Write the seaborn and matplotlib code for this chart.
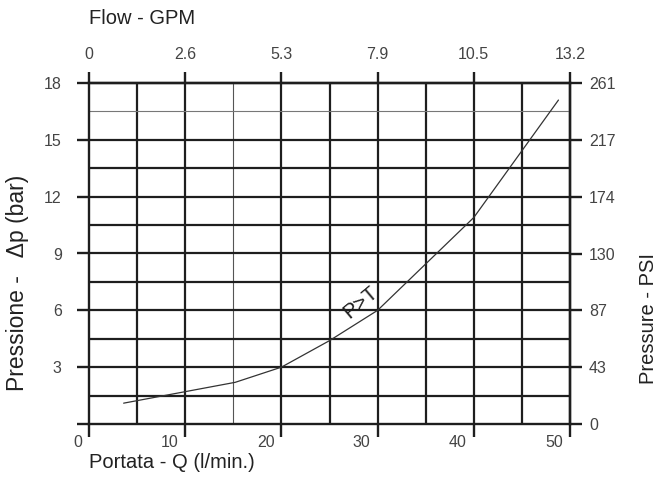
import numpy as np
import pandas as pd
import matplotlib
matplotlib.use("Agg")
import matplotlib.pyplot as plt
import matplotlib.transforms as mtransforms
import seaborn as sns

# ---- data ----
flow_lpm = [3.6, 15.2, 20.0, 25.0, 30.0, 40.0, 48.8]
pressure_bar = [1.1, 2.2, 3.0, 4.4, 6.0, 10.9, 17.1]

x_ticks = [0, 10, 20, 30, 40, 50]
x_labels = ["0", "10", "20", "30", "40", "50"]
gpm_labels = ["0", "2.6", "5.3", "7.9", "10.5", "13.2"]
y_ticks = [0, 3, 6, 9, 12, 15, 18]
bar_labels = ["", "3", "6", "9", "12", "15", "18"]
psi_labels = ["0", "43", "87", "130", "174", "217", "261"]

grid_x = [5, 10, 15, 20, 25, 30, 35, 40, 45]
grid_x_thin = [False, False, True, False, False, False, False, False, False]
grid_y = [1.5, 3, 4.5, 6, 7.5, 9, 10.5, 12, 13.5, 15, 16.5]
grid_y_thin = [False] * 10 + [True]

sns.set_style("white")
plt.rcParams["font.family"] = ["Liberation Sans", "DejaVu Sans"]

W, H, DPI = 667, 491, 100
fig = plt.figure(figsize=(W / DPI, H / DPI), dpi=DPI)
ax = fig.add_axes([89 / W, (H - 424) / H, (570 - 89) / W, (424 - 83) / H])
ax.set_xlim(0, 50)
ax.set_ylim(0, 18)

dark = "#1e1e1e"
# grid
for gx, thin in zip(grid_x, grid_x_thin):
    ax.axvline(gx, color="#555555" if thin else dark, lw=0.8 if thin else 1.6, zorder=1)
for gy, thin in zip(grid_y, grid_y_thin):
    ax.axhline(gy, color="#777777" if thin else dark, lw=0.8 if thin else 1.6, zorder=1)

df = pd.DataFrame({"q": flow_lpm, "p": pressure_bar})
sns.lineplot(data=df, x="q", y="p", ax=ax, color="#333333", lw=0.9, zorder=3)

ax.text(28.2, 6.45, "P>T", rotation=40, ha="center", va="center",
        fontsize=15, color=dark, zorder=4)

for s in ax.spines.values():
    s.set_visible(True)
    s.set_linewidth(1.7)
    s.set_color(dark)

tick_col = "#444444"
ax.set_xlabel("")
ax.set_ylabel("")
ax.set_xticks(x_ticks, x_labels)
ax.set_yticks(y_ticks, bar_labels)
ax.tick_params(axis="x", direction="out", length=9.4, width=1.7, color=dark,
               pad=-1.5, labelsize=11.5, labelcolor=tick_col, bottom=True)
ax.tick_params(axis="y", direction="out", length=8.6, width=1.7, color=dark,
               pad=11, labelsize=11.5, labelcolor=tick_col, left=True)
off = mtransforms.ScaledTranslation(-7 / DPI, 0, fig.dpi_scale_trans)
for lab in ax.get_xticklabels():
    lab.set_horizontalalignment("right")
    lab.set_transform(lab.get_transform() + off)

top = ax.secondary_xaxis("top")
top.set_xticks(x_ticks, gpm_labels)
top.tick_params(direction="out", length=8, width=1.7, color=dark, pad=7,
                labelsize=11.5, labelcolor=tick_col)
top.spines["top"].set_linewidth(1.7)
top.spines["top"].set_color(dark)

right = ax.secondary_yaxis("right")
right.set_yticks(y_ticks, psi_labels)
right.tick_params(direction="out", length=8.6, width=1.7, color=dark, pad=5,
                  labelsize=11.5, labelcolor=tick_col)
right.spines["right"].set_linewidth(1.7)
right.spines["right"].set_color(dark)

lab_kw = dict(fontsize=14.5, color="#222222")
fig.text(89 / W, 1 - 19 / H, "Flow - GPM", ha="left", va="center", **lab_kw)
fig.text(89 / W, 1 - 462 / H, "Portata - Q (l/min.)", ha="left", va="center", **lab_kw)
fig.text(18 / W, 1 - 283 / H, "Pressione -   Δp (bar)", rotation=90,
         ha="center", va="center", fontsize=16.5, color="#222222")
fig.text(648 / W, 1 - 318 / H, "Pressure - PSI", rotation=90,
         ha="center", va="center", **lab_kw)

fig.savefig("out.png", dpi=DPI)
